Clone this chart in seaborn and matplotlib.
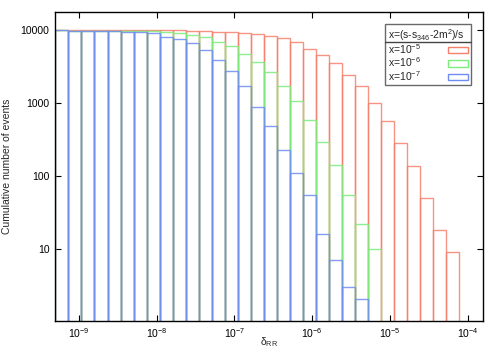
import matplotlib
matplotlib.use("Agg")
import matplotlib.pyplot as plt
import matplotlib.patches as mpatches
from matplotlib.lines import Line2D
from matplotlib.ticker import FixedLocator, FuncFormatter, NullLocator
import numpy as np
import pandas as pd
import seaborn as sns

# log10(delta_RR) binning used by the histogram
log_lo = -9.3
log_step = 0.1675
n_bins = 31

series = ["x=10$^{-5}$", "x=10$^{-6}$", "x=10$^{-7}$"]
colors = ["#f5806c", "#7cec7c", "#6f8cf0"]

# cumulative number of events per bin
counts_1e5 = [10000, 9990, 9990, 9980, 9980, 9970, 9960, 9950, 9940, 9920, 9780,
              9750, 9550, 9500, 9180, 8730, 8350, 7690, 6780, 5530, 4580,
              3540, 2450, 1700, 1000, 557, 278, 138, 49, 18, 9]
counts_1e6 = [10000, 9780, 9780, 9780, 9780, 9750, 9700, 9690, 9300, 9010, 8540,
              7940, 6780, 5970, 4680, 3670, 2650, 1720, 1050, 575, 292,
              140, 54, 22, 10, 0, 0, 0, 0, 0, 0]
counts_1e7 = [10000, 9600, 9600, 9600, 9600, 9390, 9300, 9010, 8000, 7590, 6570,
              5310, 3870, 2710, 1690, 890, 476, 222, 109, 55, 16,
              7, 3, 2, 0, 0, 0, 0, 0, 0, 0]

centers = 10 ** (log_lo + log_step * (np.arange(n_bins) + 0.5))
frames = []
for name, cnt in zip(series, [counts_1e5, counts_1e6, counts_1e7]):
    frames.append(pd.DataFrame({"delta": centers, "count": cnt, "series": name}))
df = pd.concat(frames, ignore_index=True)
df = df[df["count"] > 0]

sns.set_theme(style="ticks")
plt.rcParams["font.family"] = ["Liberation Sans", "DejaVu Sans"]
plt.rcParams["mathtext.fontset"] = "custom"
plt.rcParams["mathtext.rm"] = "Liberation Sans"
plt.rcParams["mathtext.it"] = "Liberation Sans:italic"

fig = plt.figure(figsize=(5, 3.5), dpi=100)
ax = fig.add_axes([0.11, 0.0837, 0.856, 0.882])

# seaborn layers hue levels in reverse, so reverse the order to get blue on top
sns.histplot(data=df, x="delta", weights="count", hue="series",
             hue_order=series[::-1], palette=dict(zip(series, colors)),
             binwidth=log_step, binrange=(log_lo, log_lo + log_step * n_bins),
             log_scale=True, element="bars", fill=False, alpha=0.85,
             linewidth=1.0, legend=False, ax=ax)

ax.set_yscale("log")
ax.set_xlim(10 ** -9.305, 10 ** -3.803)
ax.set_ylim(1.02, 17700)

ax.xaxis.set_major_locator(FixedLocator([1e-9, 1e-8, 1e-7, 1e-6, 1e-5, 1e-4]))
ax.xaxis.set_major_formatter(FuncFormatter(lambda v, p: "10$^{%d}$" % round(np.log10(v))))
ax.yaxis.set_major_locator(FixedLocator([10, 100, 1000, 10000]))
ax.yaxis.set_major_formatter(FuncFormatter(lambda v, p: "%g" % v))
ax.xaxis.set_minor_locator(NullLocator())
ax.yaxis.set_minor_locator(NullLocator())
ax.tick_params(direction="in", top=True, right=True, length=4, width=0.8,
               labelsize=7.5, colors="black", pad=4)

for s in ax.spines.values():
    s.set_visible(True)
    s.set_color("black")
    s.set_linewidth(1.0)

ax.set_xlabel("δ$_{\\mathrm{RR}}$", fontsize=7.5)
ax.xaxis.set_label_coords(0.5, -0.048)
ax.set_ylabel("Cumulative number of events", fontsize=7.5, labelpad=6)

handles = [mpatches.Rectangle((0, 0), 1, 1, fill=False, edgecolor=c, linewidth=1.0)
           for c in colors]
leg = ax.legend(handles, series, title="x=(s-s$_{346}$-2m$^{2}$)/s",
                loc="upper right", bbox_to_anchor=(0.972, 0.96),
                markerfirst=False, fontsize=7.5, title_fontsize=7.5,
                frameon=True, fancybox=False, edgecolor="#444444",
                borderpad=0.25, labelspacing=-0.05, handlelength=2.0,
                handleheight=0.55, handletextpad=2.6, borderaxespad=0)
leg.get_frame().set_linewidth(1.0)
leg._legend_box.align = "left"

# gnuplot-style rule under the key title
fig.canvas.draw()
fb = leg.get_frame().get_window_extent()
tb = leg.get_title().get_window_extent()
first = leg.get_texts()[0].get_window_extent()
sep_y = 0.5 * (tb.y0 + first.y1)
fig.add_artist(Line2D([fb.x0, fb.x1], [sep_y, sep_y], transform=None,
                      color="#444444", linewidth=1.0))

fig.savefig("out.png", dpi=100)
